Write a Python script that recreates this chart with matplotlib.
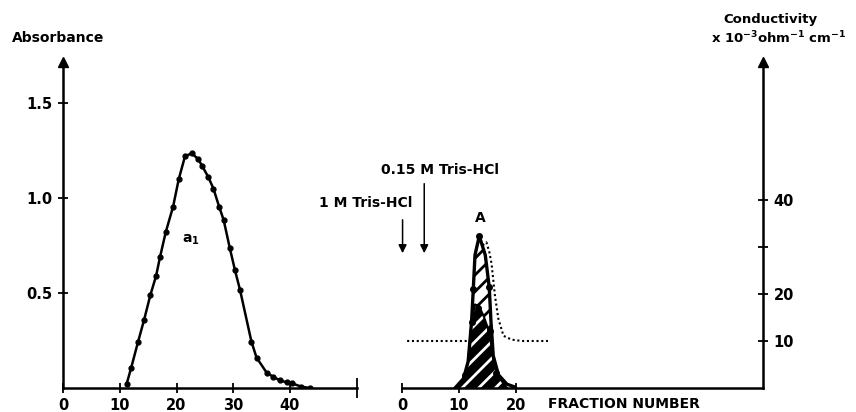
import numpy as np
import matplotlib
matplotlib.use("Agg")
import matplotlib.pyplot as plt

plt.rcParams['font.family'] = ['DejaVu Sans']
plt.rcParams['font.weight'] = 'bold'
plt.rcParams['mathtext.default'] = 'bf'
plt.rcParams['hatch.linewidth'] = 2.0

# left panel: absorbance profile of peak a1
frac_a1 = [11.2, 12.0, 13.2, 14.3, 15.4, 16.4, 17.1, 18.1, 19.4, 20.4, 21.5, 22.7,
           23.8, 24.5, 25.6, 26.5, 27.5, 28.3, 29.4, 30.3, 31.2, 33.2, 34.1, 35.9,
           37.0, 38.2, 39.4, 40.3, 42.0, 43.5]
abs_a1 = [0.02, 0.105, 0.24, 0.36, 0.49, 0.59, 0.69, 0.82, 0.955, 1.10, 1.22, 1.235,
          1.205, 1.17, 1.11, 1.05, 0.955, 0.885, 0.735, 0.62, 0.515, 0.244, 0.16, 0.08,
          0.06, 0.04, 0.03, 0.025, 0.007, 0.0]

# right panel: peak A (hatched) and inner profile (black)
frac_A = [9.3, 10.8, 11.6, 12.2, 12.5, 12.8, 13.55, 14.6, 15.3, 15.6, 16.0, 16.9, 18.4, 19.8]
abs_A = [0.0, 0.05, 0.14, 0.35, 0.52, 0.70, 0.80, 0.70, 0.53, 0.35, 0.17, 0.07, 0.02, 0.005]
frac_B = [9.6, 10.8, 11.6, 12.2, 12.8, 13.5, 14.3, 15.0, 15.5, 16.0, 16.9, 18.4]
abs_B = [0.0, 0.05, 0.14, 0.35, 0.44, 0.43, 0.38, 0.32, 0.26, 0.15, 0.06, 0.0]
dot_B = [12.2, 13.3, 15.4, 11.0, 16.5]
dot_B_abs = [0.35, 0.42, 0.30, 0.07, 0.08]

# conductivity (x 10^-3 ohm^-1 cm^-1)
frac_cond = [0.9, 5, 10, 12.5, 13.8, 14.8, 15.3, 15.7, 16.3, 16.9, 17.8, 19.2, 21, 25.6]
cond = [10, 10, 10, 10, 30, 31, 29, 26.5, 19.6, 14.7, 11.1, 10.3, 10, 10]

W, H = 856, 412
fig = plt.figure(figsize=(W / 100, H / 100), dpi=100)

y0, y1 = 388, 62
ax1 = fig.add_axes([63 / W, (H - y0) / H, (357 - 63) / W, (y0 - y1) / H])
ax2 = fig.add_axes([402 / W, (H - y0) / H, (763 - 402) / W, (y0 - y1) / H])
ax3 = ax2.twinx()

absmax = (y0 - y1) / 190.0
for ax in (ax1, ax2):
    ax.set_ylim(0, absmax)
    ax.spines['top'].set_visible(False)
    ax.spines['right'].set_visible(False)
    for s in ax.spines.values():
        s.set_linewidth(1.8)
ax1.set_xlim(0, 51.8)
ax2.set_xlim(0, 63.3)
ax3.set_ylim(0, (y0 - y1) / 4.7)
ax3.set_xlim(0, 63.3)
for s in ('top', 'left', 'bottom'):
    ax3.spines[s].set_visible(False)
ax3.spines['right'].set_linewidth(1.8)
ax2.spines['left'].set_visible(False)

tick_kw = dict(direction='inout', length=7, width=1.3, labelsize=10.5, pad=4)
ax1.tick_params(**tick_kw)
ax2.tick_params(axis='x', **tick_kw)
ax2.tick_params(axis='y', left=False, labelleft=False)
ax3.tick_params(**tick_kw)

ax1.set_xticks([0, 10, 20, 30, 40])
ax1.set_xticks([51.8], minor=True)
ax1.tick_params(axis='x', which='minor', direction='inout', length=14, width=1.3)
ax1.set_yticks([0.5, 1.0, 1.5])
ax1.set_yticklabels(['0.5', '1.0', '1.5'])
ax2.set_xticks([0, 10, 20])
ax3.set_yticks([10, 20, 30, 40])
ax3.set_yticklabels(['10', '20', '', '40'])

# arrow heads on the vertical axes
ax1.plot(0, 1, marker='^', color='k', markersize=7, transform=ax1.transAxes, clip_on=False)
ax3.plot(1, 1, marker='^', color='k', markersize=7, transform=ax3.transAxes, clip_on=False)

# left peak
ax1.plot(frac_a1, abs_a1, color='k', lw=1.8, marker='o', markersize=3.5)
ax1.text(22.5, 0.78, 'a$_1$', fontsize=10, fontweight='bold', ha='center', va='center')

# conductivity underneath the peaks
ax3.plot(frac_cond, cond, color='k', lw=1.5, linestyle=(0, (1, 1.3)))
ax2.set_zorder(ax3.get_zorder() + 1)
ax2.patch.set_visible(False)

ax2.fill_between(frac_A, abs_A, color='white', edgecolor='k', hatch='//', linewidth=0)
ax2.fill_between(frac_B, abs_B, color='k', linewidth=0)
ax2.fill_between(frac_B, abs_B, facecolor='none', edgecolor='white', hatch='//', linewidth=0)
ax2.plot(frac_A, abs_A, color='k', lw=2.4)
ax2.plot(frac_B, abs_B, color='k', lw=1.5)
ax2.plot([13.55, 12.5, 15.3], [0.80, 0.52, 0.53], 'ko', markersize=4)
ax2.plot(dot_B, dot_B_abs, 'ko', markersize=4)
ax2.text(13.7, 0.895, 'A', fontsize=10, fontweight='bold', ha='center', va='center')

# buffer change arrows
ax2.annotate('', xy=(0.1, 0.695), xytext=(0.1, 0.90),
             arrowprops=dict(arrowstyle='-|>', color='k', lw=1.1, mutation_scale=12))
ax2.annotate('', xy=(3.9, 0.695), xytext=(3.9, 1.09),
             arrowprops=dict(arrowstyle='-|>', color='k', lw=1.1, mutation_scale=12))
ax2.text(1.9, 0.975, '1 M Tris-HCl', fontsize=10, fontweight='bold', ha='right', va='center')
ax2.text(6.6, 1.145, '0.15 M Tris-HCl', fontsize=10, fontweight='bold', ha='center', va='center')

ax2.text(25.6, -0.085, 'FRACTION NUMBER', fontsize=10, fontweight='bold', ha='left', va='center')

fig.text(12 / W, 1 - 38 / H, 'Absorbance', fontsize=10, fontweight='bold', ha='left', va='center')
fig.text(770 / W, 1 - 20 / H, 'Conductivity', fontsize=9.5, fontweight='bold', ha='center', va='center')
fig.text(779 / W, 1 - 38 / H, 'x 10$^{-3}$ohm$^{-1}$ cm$^{-1}$', fontsize=9.5, fontweight='bold',
         ha='center', va='center')

fig.savefig('out.png', dpi=100)
